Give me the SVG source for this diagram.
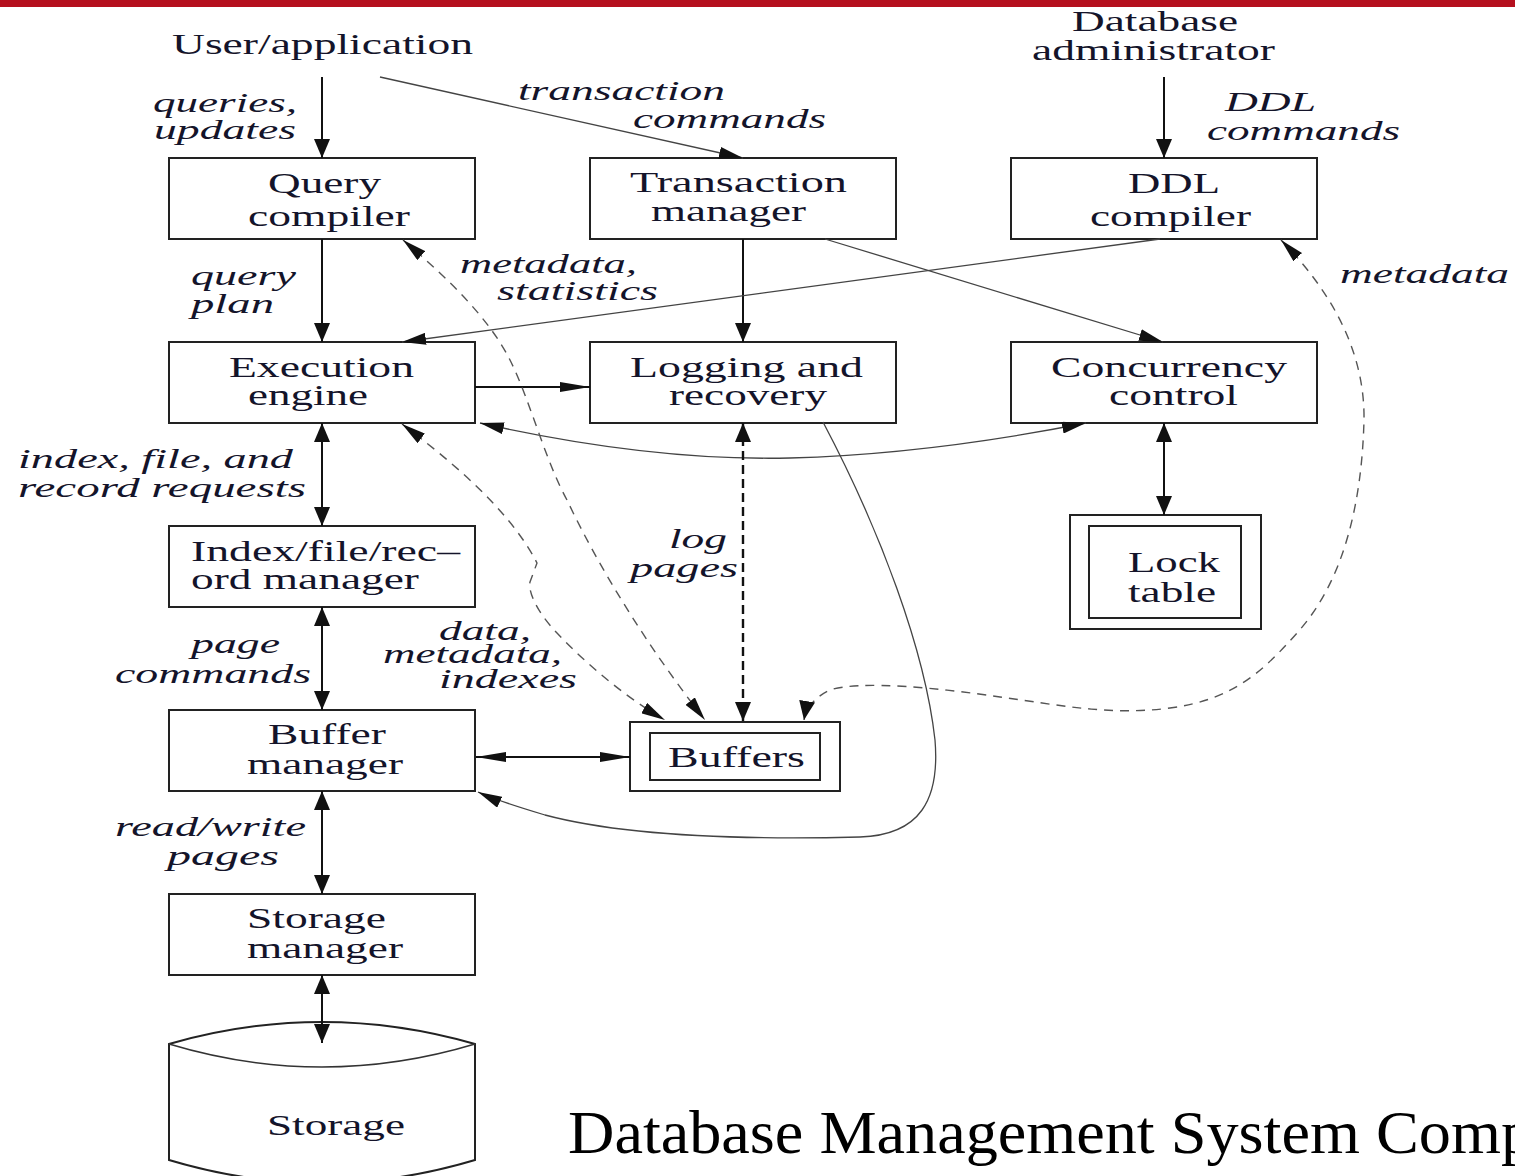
<svg xmlns="http://www.w3.org/2000/svg" width="1515" height="1176" viewBox="0 0 1515 1176">
<style>
.box{fill:#fff;stroke:#222;stroke-width:2}
.t{font-family:"Liberation Serif","Times New Roman",serif;font-size:29px;fill:#14142a}
.i{font-family:"Liberation Serif","Times New Roman",serif;font-size:28px;font-style:italic;fill:#14142a}
.main{fill:none;stroke:#111;stroke-width:2}
.thin{fill:none;stroke:#444;stroke-width:1.3}
.dash{fill:none;stroke:#555;stroke-width:1.4;stroke-dasharray:9 7}
.bdash{fill:none;stroke:#111;stroke-width:2.4;stroke-dasharray:9 5}
</style>
<defs>
<marker id="av" markerUnits="userSpaceOnUse" markerWidth="19" markerHeight="16" refX="19" refY="8" orient="auto-start-reverse" viewBox="0 0 19 16"><path d="M0,0 L19,8 L0,16 z" fill="#111"/></marker>
<marker id="ah" markerUnits="userSpaceOnUse" markerWidth="30" markerHeight="10" refX="30" refY="5" orient="auto-start-reverse" viewBox="0 0 30 10"><path d="M0,0 L30,5 L0,10 z" fill="#111"/></marker>
<marker id="ad" markerUnits="userSpaceOnUse" markerWidth="24" markerHeight="12" refX="24" refY="6" orient="auto-start-reverse" viewBox="0 0 24 12"><path d="M0,0 L24,6 L0,12 z" fill="#111"/></marker>
</defs>
<rect x="0" y="0" width="1515" height="7" fill="#b5101e"/>

<g id="user-application"><text class="t" x="172" y="54" textLength="301" lengthAdjust="spacingAndGlyphs">User/application</text></g>
<g id="database-administrator">
<text class="t" x="1072" y="31" textLength="166" lengthAdjust="spacingAndGlyphs">Database</text>
<text class="t" x="1032" y="60" textLength="243" lengthAdjust="spacingAndGlyphs">administrator</text>
</g>
<g id="query-compiler"><rect class="box" x="169" y="158" width="306" height="81"/>
<text class="t" x="268" y="193" textLength="113" lengthAdjust="spacingAndGlyphs">Query</text>
<text class="t" x="248" y="226" textLength="162" lengthAdjust="spacingAndGlyphs">compiler</text></g>
<g id="transaction-manager"><rect class="box" x="590" y="158" width="306" height="81"/>
<text class="t" x="630" y="192" textLength="217" lengthAdjust="spacingAndGlyphs">Transaction</text>
<text class="t" x="651" y="221" textLength="155" lengthAdjust="spacingAndGlyphs">manager</text></g>
<g id="ddl-compiler"><rect class="box" x="1011" y="158" width="306" height="81"/>
<text class="t" x="1128" y="193" textLength="92" lengthAdjust="spacingAndGlyphs">DDL</text>
<text class="t" x="1090" y="226" textLength="161" lengthAdjust="spacingAndGlyphs">compiler</text></g>
<g id="execution-engine"><rect class="box" x="169" y="342" width="306" height="81"/>
<text class="t" x="229" y="377" textLength="185" lengthAdjust="spacingAndGlyphs">Execution</text>
<text class="t" x="248" y="405" textLength="120" lengthAdjust="spacingAndGlyphs">engine</text></g>
<g id="logging-recovery"><rect class="box" x="590" y="342" width="306" height="81"/>
<text class="t" x="630" y="377" textLength="233" lengthAdjust="spacingAndGlyphs">Logging and</text>
<text class="t" x="669" y="405" textLength="158" lengthAdjust="spacingAndGlyphs">recovery</text></g>
<g id="concurrency-control"><rect class="box" x="1011" y="342" width="306" height="81"/>
<text class="t" x="1051" y="377" textLength="236" lengthAdjust="spacingAndGlyphs">Concurrency</text>
<text class="t" x="1109" y="405" textLength="129" lengthAdjust="spacingAndGlyphs">control</text></g>
<g id="index-file-record-manager"><rect class="box" x="169" y="526" width="306" height="81"/>
<text class="t" x="191" y="561" textLength="269" lengthAdjust="spacingAndGlyphs">Index/file/rec–</text>
<text class="t" x="191" y="589" textLength="228" lengthAdjust="spacingAndGlyphs">ord manager</text></g>
<g id="lock-table"><rect class="box" x="1070" y="515" width="191" height="114"/>
<rect class="box" x="1089" y="526" width="152" height="92"/>
<text class="t" x="1128" y="572" textLength="92" lengthAdjust="spacingAndGlyphs">Lock</text>
<text class="t" x="1128" y="602" textLength="88" lengthAdjust="spacingAndGlyphs">table</text></g>
<g id="buffer-manager"><rect class="box" x="169" y="710" width="306" height="81"/>
<text class="t" x="268" y="744" textLength="118" lengthAdjust="spacingAndGlyphs">Buffer</text>
<text class="t" x="247" y="774" textLength="156" lengthAdjust="spacingAndGlyphs">manager</text></g>
<g id="buffers"><rect class="box" x="630" y="722" width="210" height="69"/>
<rect class="box" x="650" y="733" width="170" height="47"/>
<text class="t" x="668" y="767" textLength="137" lengthAdjust="spacingAndGlyphs">Buffers</text></g>
<g id="storage-manager"><rect class="box" x="169" y="894" width="306" height="81"/>
<text class="t" x="247" y="928" textLength="139" lengthAdjust="spacingAndGlyphs">Storage</text>
<text class="t" x="247" y="958" textLength="156" lengthAdjust="spacingAndGlyphs">manager</text></g>
<g id="storage">
<path d="M169,1044 Q322,1000 475,1044 L475,1160 Q322,1206 169,1160 Z" fill="#fff" stroke="#222" stroke-width="2"/>
<path d="M169,1044 Q322,1090 475,1044" fill="none" stroke="#333" stroke-width="1.6"/>
<text class="t" x="267" y="1135" textLength="138" lengthAdjust="spacingAndGlyphs">Storage</text></g>

<g id="connectors">
<line class="main" x1="322" y1="77" x2="322" y2="158" marker-end="url(#av)"/>
<line class="thin" x1="380" y1="77" x2="743" y2="158" marker-end="url(#ad)"/>
<line class="main" x1="1164" y1="77" x2="1164" y2="158" marker-end="url(#av)"/>
<line class="main" x1="322" y1="239" x2="322" y2="342" marker-end="url(#av)"/>
<line class="main" x1="743" y1="239" x2="743" y2="342" marker-end="url(#av)"/>
<line class="thin" x1="825" y1="239" x2="1163" y2="342" marker-end="url(#ad)"/>
<line class="thin" x1="1160" y1="239" x2="402" y2="342" marker-end="url(#ad)"/>
<line class="main" x1="475" y1="387" x2="590" y2="387" marker-end="url(#ah)"/>
<path class="thin" d="M480,423 C600,450 700,460 790,458 C900,455 1000,440 1086,423" marker-start="url(#ad)" marker-end="url(#ad)"/>
<line class="main" x1="322" y1="423" x2="322" y2="526" marker-start="url(#av)" marker-end="url(#av)"/>
<line class="main" x1="322" y1="607" x2="322" y2="710" marker-start="url(#av)" marker-end="url(#av)"/>
<line class="main" x1="322" y1="791" x2="322" y2="894" marker-start="url(#av)" marker-end="url(#av)"/>
<line class="main" x1="322" y1="975" x2="322" y2="1043" marker-start="url(#av)" marker-end="url(#av)"/>
<line class="main" x1="476" y1="757" x2="630" y2="757" marker-start="url(#ah)" marker-end="url(#ah)"/>
<line class="main" x1="1164" y1="423" x2="1164" y2="515" marker-start="url(#av)" marker-end="url(#av)"/>
<line class="bdash" x1="743" y1="423" x2="743" y2="721" marker-start="url(#av)" marker-end="url(#av)"/>
<path class="thin" d="M823,422 C880,530 925,650 935,740 C940,800 920,835 860,837 C740,840 620,835 545,815 C515,806 495,800 478,792" marker-end="url(#ad)"/>
<path class="dash" d="M402,424 C450,460 510,510 537,563 L530,582 C528,590 535,610 557,633 C590,668 630,700 665,720" marker-start="url(#ad)" marker-end="url(#ad)"/>
<path class="dash" d="M403,240 C450,280 490,320 510,360 C530,400 545,460 567,500 C600,570 650,650 705,720" marker-start="url(#ad)" marker-end="url(#ad)"/>
<path class="dash" d="M1281,240 C1330,290 1365,350 1364,420 C1362,500 1345,580 1297,633 C1260,675 1230,700 1170,708 C1110,716 1060,705 1000,697 C940,688 860,680 830,690 C815,697 806,708 804,720" marker-start="url(#ad)" marker-end="url(#av)"/>
</g>

<g id="labels">
<text class="i" x="153" y="112" textLength="144" lengthAdjust="spacingAndGlyphs">queries,</text>
<text class="i" x="154" y="139" textLength="142" lengthAdjust="spacingAndGlyphs">updates</text>
<text class="i" x="518" y="100" textLength="207" lengthAdjust="spacingAndGlyphs">transaction</text>
<text class="i" x="633" y="128" textLength="193" lengthAdjust="spacingAndGlyphs">commands</text>
<text class="i" x="1225" y="111" textLength="91" lengthAdjust="spacingAndGlyphs">DDL</text>
<text class="i" x="1207" y="140" textLength="193" lengthAdjust="spacingAndGlyphs">commands</text>
<text class="i" x="191" y="285" textLength="105" lengthAdjust="spacingAndGlyphs">query</text>
<text class="i" x="191" y="313" textLength="83" lengthAdjust="spacingAndGlyphs">plan</text>
<text class="i" x="460" y="273" textLength="177" lengthAdjust="spacingAndGlyphs">metadata,</text>
<text class="i" x="497" y="300" textLength="161" lengthAdjust="spacingAndGlyphs">statistics</text>
<text class="i" x="1340" y="283" textLength="169" lengthAdjust="spacingAndGlyphs">metadata</text>
<text class="i" x="18" y="468" textLength="275" lengthAdjust="spacingAndGlyphs">index, file, and</text>
<text class="i" x="18" y="497" textLength="288" lengthAdjust="spacingAndGlyphs">record requests</text>
<text class="i" x="669" y="548" textLength="58" lengthAdjust="spacingAndGlyphs">log</text>
<text class="i" x="630" y="577" textLength="108" lengthAdjust="spacingAndGlyphs">pages</text>
<text class="i" x="191" y="653" textLength="89" lengthAdjust="spacingAndGlyphs">page</text>
<text class="i" x="115" y="683" textLength="196" lengthAdjust="spacingAndGlyphs">commands</text>
<text class="i" x="439" y="640" textLength="92" lengthAdjust="spacingAndGlyphs">data,</text>
<text class="i" x="383" y="663" textLength="179" lengthAdjust="spacingAndGlyphs">metadata,</text>
<text class="i" x="439" y="688" textLength="138" lengthAdjust="spacingAndGlyphs">indexes</text>
<text class="i" x="115" y="836" textLength="191" lengthAdjust="spacingAndGlyphs">read/write</text>
<text class="i" x="167" y="865" textLength="112" lengthAdjust="spacingAndGlyphs">pages</text>
</g>
<g id="title"><text x="568" y="1153" font-family="'Liberation Serif','Times New Roman',serif" font-size="62" fill="#000" textLength="965" lengthAdjust="spacingAndGlyphs">Database Management System Comp</text></g>
</svg>
